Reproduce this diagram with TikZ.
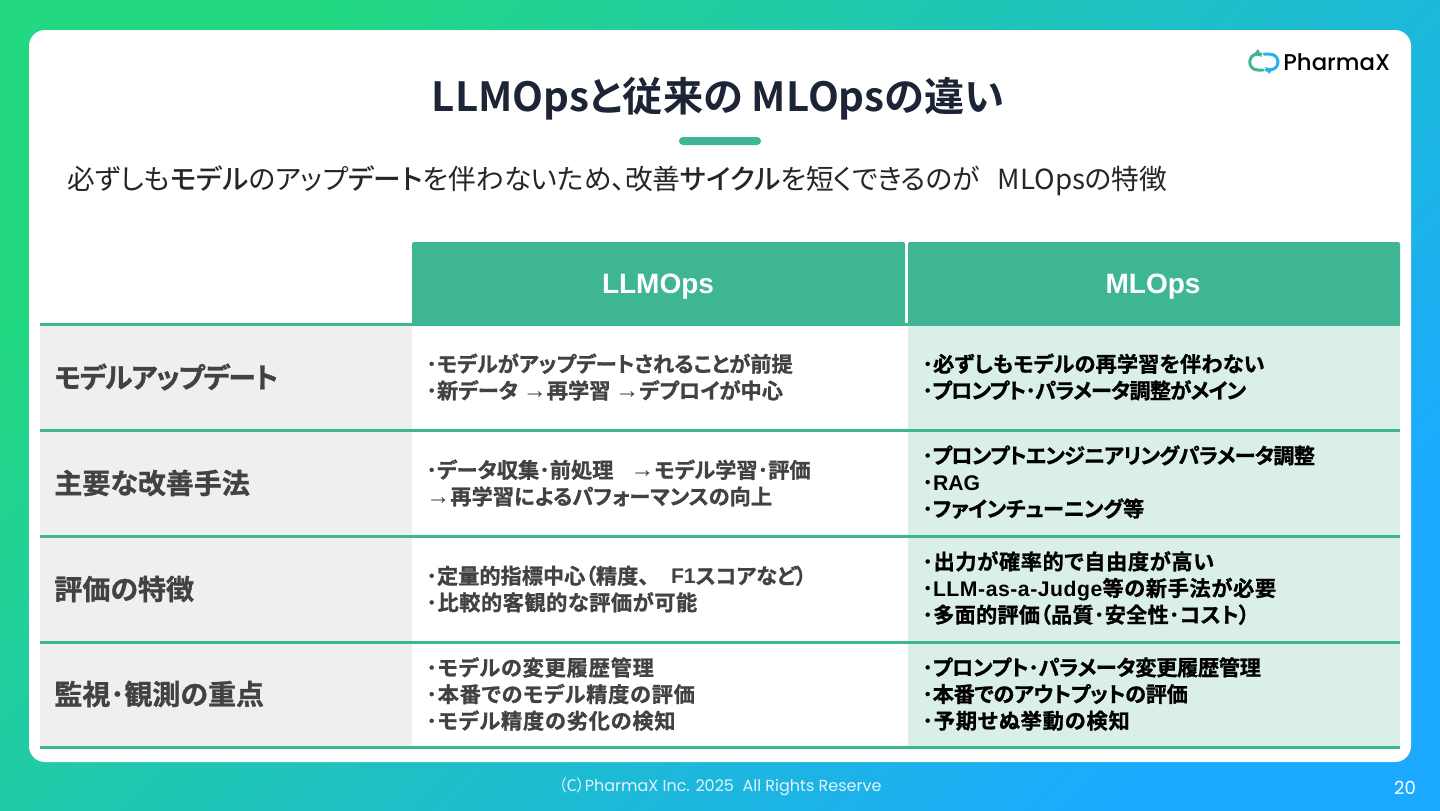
\documentclass[tikz,border=0pt]{standalone}
\usepackage{fontspec}
\setmainfont{Noto Sans CJK JP}[RawFeature={+palt}]
\newfontfamily\jpm{Noto Sans CJK JP Medium}[RawFeature={+palt}]
\newfontfamily\jpb{Noto Sans CJK JP Bold}[RawFeature={+palt}]
\newfontfamily\jpf{Noto Sans CJK JP Bold}[RawFeature={+palt},FakeBold=1]
\newfontfamily\lat{Liberation Sans}
\newfontfamily\latb{Liberation Sans Bold}
\newfontfamily\pop{Poppins}
\newfontfamily\popm{Poppins Medium}
\newcommand{\lb}[1]{{\latb #1}}
\newcommand{\arw}{{\fontsize{12}{13.3}\lat →}}
\newcommand{\ls}[2]{{\addfontfeature{LetterSpace=#1}#2}}
\definecolor{gc}{HTML}{3EB694}
\definecolor{ml}{HTML}{DAEFE7}
\definecolor{gy}{HTML}{EFEFEF}
\definecolor{navy}{HTML}{1B2536}
\definecolor{lab}{HTML}{424242}
\definecolor{bga}{HTML}{22D982}
\definecolor{bgb}{HTML}{1EC4C0}
\definecolor{bgc}{HTML}{1BAAFF}
\definecolor{lblue}{HTML}{25B4E8}
\tikzset{
  x=0.5pt,y=-0.5pt,
  cell/.style={anchor=west,align=left,inner sep=0pt,font=\jpf\fontsize{10.6}{13.3}\selectfont,text=black},
  leftcell/.style={cell,text=lab},
  rowhead/.style={anchor=west,inner sep=0pt,font=\jpf\fontsize{14}{16}\selectfont,text=lab},
  colhead/.style={inner sep=0pt,font=\latb\fontsize{14}{16}\selectfont,text=white},
  sepline/.style={draw=gc,line width=1.5pt},
  logoline/.style={line width=1.5pt,line cap=round},
}
\begin{document}
\begin{tikzpicture}
\useasboundingbox (0,0) rectangle (1440,810);
% gradient background
\shade[left color=bga,middle color=bgb,right color=bgc,shading angle=45] (0,0) rectangle (1440,810);
% card
\fill[white,rounded corners=8pt] (29,30) rectangle (1411,762);
% title
\node[inner sep=0pt,font=\jpb\fontsize{20.1}{24}\selectfont,text=navy] (title) at (718,99) {LLMOpsと従来の MLOpsの違い};
\fill[gc,rounded corners=2pt] (679,137) rectangle (761,145);
\node[anchor=west,inner sep=0pt,font=\fontsize{13.85}{16}\selectfont,text=black!85] (sub) at (67,181) {必ずしも{\jpm モデル}のアップ{\jpm デート}を伴わないため、改善{\jpm サイクル}を短くできるのが\hspace{9pt}MLOpsの特徴};
% logo
\draw[gc,logoline] (1263,70) -- (1258,70) .. controls (1247,70) and (1247,54) .. (1258,54) -- (1261,54);
\fill[gc] (1258,49) -- (1254,54) -- (1262,57) -- cycle;
\draw[lblue,logoline] (1264,54) -- (1269,54) .. controls (1281,54) and (1281,70) .. (1269,70) -- (1266,70);
\fill[lblue] (1269,74) -- (1273,69) -- (1265,67) -- cycle;
\node[anchor=west,inner sep=0pt,font=\popm\fontsize{11.4}{14}\selectfont,text=black] (logo) at (1283,62) {PharmaX};
% header cells
\fill[gc,rounded corners=1pt] (412,242) rectangle (905,325);
\fill[gc,rounded corners=1pt] (908,242) rectangle (1400,325);
\node[colhead] (h1) at (658,287) {LLMOps};
\node[colhead] (h2) at (1153,287) {MLOps};
% rows
\fill[gy] (40,325) rectangle (412,429);
\fill[gy] (40,431) rectangle (412,535);
\fill[gy] (40,537) rectangle (412,641);
\fill[gy] (40,643) rectangle (412,747);
\fill[ml] (908,325) rectangle (1400,747);
\draw[sepline] (40,324) -- (1400,324);
\draw[sepline] (40,430) -- (1400,430);
\draw[sepline] (40,536) -- (1400,536);
\draw[sepline] (40,642) -- (1400,642);
\draw[sepline] (40,747) -- (1400,747);
% row heads
\node[rowhead] (r1) at (54,377) {\ls{-4}{モデルアップデート}};
\node[rowhead] (r2) at (54,483) {主要な改善手法};
\node[rowhead] (r3) at (54,589) {評価の特徴};
\node[rowhead] (r4) at (54,694) {監視･観測の重点};
% left column
\node[leftcell] (a1) at (426,377) {･モデルがアップデートされることが前提\\･新データ \arw 再学習 \arw デプロイが中心};
\node[leftcell] (a2) at (426,483) {･データ収集･前処理\hspace{8.5pt}\arw モデル学習･評価\\\arw 再学習によるパフォーマンスの向上};
\node[leftcell] (a3) at (426,589) {･定量的指標中心（精度、\hspace{11pt}\lb{F1}スコアなど）\\\ls{2.5}{･比較的客観的な評価が可能}};
\node[leftcell] (a4) at (426,694) {\ls{3.8}{･モデルの変更履歴管理}\\\ls{3.5}{･本番でのモデル精度の評価}\\\ls{3.8}{･モデル精度の劣化の検知}};
% right column
\node[cell] (b1) at (922,377) {\ls{0.6}{･必ずしもモデルの再学習を伴わない}\\\ls{-3.9}{･プロンプト･パラメータ調整がメイン}};
\node[cell] (b2) at (922,482) {\ls{-3.5}{･プロンプトエンジニアリングパラメータ調整}\\･\lb{RAG}\\\ls{-1.3}{･ファインチューニング等}};
\node[cell] (b3) at (922,588) {\ls{2.9}{･出力が確率的で自由度が高い}\\･{\latb\addfontfeature{LetterSpace=2.5}LLM-as-a-Judge}\ls{3}{等の新手法が必要}\\\ls{1}{･多面的評価（品質･安全性･コスト）}};
\node[cell] (b4) at (922,694) {\ls{-1.6}{･プロンプト･パラメータ変更履歴管理}\\\ls{-1.4}{･本番でのアウトプットの評価}\\\ls{4}{･予期せぬ挙動の検知}};
% footer
\node[inner sep=0pt,font=\fontsize{8}{10}\selectfont,text=white!88!cyan] (foot) at (720,787) {（C）{\pop PharmaX Inc. 2025 \ All Rights Reserve}};
\node[inner sep=0pt,font=\pop\fontsize{9}{10}\selectfont,text=white] (pg) at (1405,788) {20};
\end{tikzpicture}
\end{document}
